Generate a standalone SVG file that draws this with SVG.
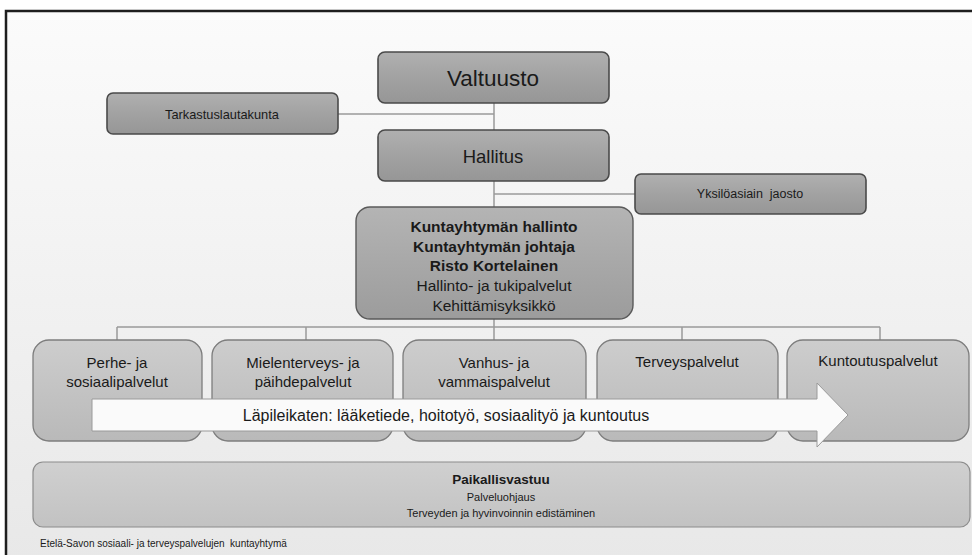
<svg xmlns="http://www.w3.org/2000/svg" width="972" height="555" viewBox="0 0 972 555">
  <defs>
    <linearGradient id="bg" x1="0" y1="0" x2="0" y2="1">
      <stop offset="0" stop-color="#fbfbfb"/>
      <stop offset="1" stop-color="#e8e8e8"/>
    </linearGradient>
    <linearGradient id="darkFill" x1="0" y1="0" x2="0" y2="1">
      <stop offset="0" stop-color="#b0b0b0"/>
      <stop offset="0.5" stop-color="#a2a2a2"/>
      <stop offset="1" stop-color="#969696"/>
    </linearGradient>
    <linearGradient id="midFill" x1="0" y1="0" x2="0" y2="1">
      <stop offset="0" stop-color="#b4b4b4"/>
      <stop offset="1" stop-color="#9c9c9c"/>
    </linearGradient>
    <linearGradient id="lightFill" x1="0" y1="0" x2="0" y2="1">
      <stop offset="0" stop-color="#cdcdcd"/>
      <stop offset="1" stop-color="#b9b9b9"/>
    </linearGradient>
    <linearGradient id="baseFill" x1="0" y1="0" x2="0" y2="1">
      <stop offset="0" stop-color="#d0d0d0"/>
      <stop offset="1" stop-color="#c2c2c2"/>
    </linearGradient>
  </defs>
  <style>
    text { font-family: "Liberation Sans", Arial, sans-serif; fill: #1a1a1a; text-anchor: middle; dominant-baseline: central; }
    .top { fill: url(#darkFill); stroke: #4a4a4a; stroke-width: 1.6; }
    .admin { fill: url(#midFill); stroke: #5a5a5a; stroke-width: 1.4; }
    .unit { fill: url(#lightFill); stroke: #7d7d7d; stroke-width: 1.3; }
    .base { fill: url(#baseFill); stroke: #8c8c8c; stroke-width: 1.2; }
    .conn { stroke: #9a9a9a; stroke-width: 1.5; fill: none; }
    .b { font-weight: bold; }
    .unitText { font-size: 15px; }
    .adminText { font-size: 15.5px; }
  </style>

  <!-- page background with left/top frame -->
  <rect x="0" y="0" width="972" height="555" fill="#ffffff"/>
  <rect x="6" y="11" width="970" height="550" fill="url(#bg)"/>
  <path d="M6 560 V11 H972" fill="none" stroke="#1e1e1e" stroke-width="2.5"/>

  <!-- connectors -->
  <g id="connectors">
    <line class="conn" x1="494" y1="103" x2="494" y2="130"/>
    <line class="conn" x1="338" y1="114" x2="494" y2="114"/>
    <line class="conn" x1="494" y1="181" x2="494" y2="207"/>
    <line class="conn" x1="494" y1="194" x2="635" y2="194"/>
    <line class="conn" x1="494" y1="319" x2="494" y2="340"/>
    <line class="conn" x1="117" y1="327" x2="880" y2="327"/>
    <line class="conn" x1="117" y1="327" x2="117" y2="340"/>
    <line class="conn" x1="306" y1="327" x2="306" y2="340"/>
    <line class="conn" x1="682" y1="327" x2="682" y2="340"/>
    <line class="conn" x1="880" y1="327" x2="880" y2="340"/>
  </g>

  <g id="valtuusto">
    <rect class="top" x="378" y="52" width="231" height="51" rx="7"/>
    <text x="493" y="78" font-size="22.5">Valtuusto</text>
  </g>

  <g id="tarkastuslautakunta">
    <rect class="top" x="107" y="93" width="231" height="41" rx="6"/>
    <text x="222" y="114" font-size="12.8">Tarkastuslautakunta</text>
  </g>

  <g id="hallitus">
    <rect class="top" x="378" y="130" width="231" height="51" rx="7"/>
    <text x="493" y="156" font-size="18.5">Hallitus</text>
  </g>

  <g id="yksiloasiain-jaosto">
    <rect class="top" x="635" y="174" width="231" height="40" rx="6"/>
    <text x="750" y="194" font-size="12.5" xml:space="preserve">Yksilöasiain  jaosto</text>
  </g>

  <g id="kuntayhtyman-hallinto">
    <rect class="admin" x="356" y="207" width="277" height="112" rx="14"/>
    <text class="b adminText" x="494" y="226">Kuntayhtymän hallinto</text>
    <text class="b adminText" x="494" y="246">Kuntayhtymän johtaja</text>
    <text class="b adminText" x="494" y="265">Risto Kortelainen</text>
    <text class="adminText" x="494" y="285" fill="#2a2a2a">Hallinto- ja tukipalvelut</text>
    <text class="adminText" x="494" y="305" fill="#2a2a2a">Kehittämisyksikkö</text>
  </g>

  <g id="perhe-ja-sosiaalipalvelut">
    <rect class="unit" x="33" y="340" width="169" height="101" rx="16"/>
    <text class="unitText" x="117" y="362">Perhe- ja</text>
    <text class="unitText" x="117" y="381">sosiaalipalvelut</text>
  </g>

  <g id="mielenterveys-ja-paihdepalvelut">
    <rect class="unit" x="212" y="340" width="181" height="101" rx="16"/>
    <text class="unitText" x="303" y="362">Mielenterveys- ja</text>
    <text class="unitText" x="303" y="381">päihdepalvelut</text>
  </g>

  <g id="vanhus-ja-vammaispalvelut">
    <rect class="unit" x="403" y="340" width="183" height="101" rx="16"/>
    <text class="unitText" x="494" y="362">Vanhus- ja</text>
    <text class="unitText" x="494" y="381">vammaispalvelut</text>
  </g>

  <g id="terveyspalvelut">
    <rect class="unit" x="597" y="340" width="181" height="101" rx="16"/>
    <text class="unitText" x="687" y="361">Terveyspalvelut</text>
  </g>

  <g id="kuntoutuspalvelut">
    <rect class="unit" x="787" y="340" width="182" height="101" rx="16"/>
    <text class="unitText" x="878" y="360">Kuntoutuspalvelut</text>
  </g>

  <!-- cross-cutting arrow over the service units -->
  <g id="lapileikkaus">
    <path d="M92 399 H817 V383 L848 415 L817 447 V431 H92 Z" fill="#fafafa" stroke="#9a9a9a" stroke-width="1"/>
    <text x="446" y="415" font-size="16">Läpileikaten: lääketiede, hoitotyö, sosiaalityö ja kuntoutus</text>
  </g>

  <g id="paikallisvastuu">
    <rect class="base" x="33" y="462" width="937" height="65" rx="10"/>
    <text class="b" x="501" y="479" font-size="13.5" fill="#2a2a2a">Paikallisvastuu</text>
    <text x="501" y="497" font-size="11">Palveluohjaus</text>
    <text x="501" y="513" font-size="11">Terveyden ja hyvinvoinnin edistäminen</text>
  </g>

  <text x="40" y="543" font-size="10" style="text-anchor:start" xml:space="preserve">Etelä-Savon sosiaali- ja terveyspalvelujen  kuntayhtymä</text>
</svg>
